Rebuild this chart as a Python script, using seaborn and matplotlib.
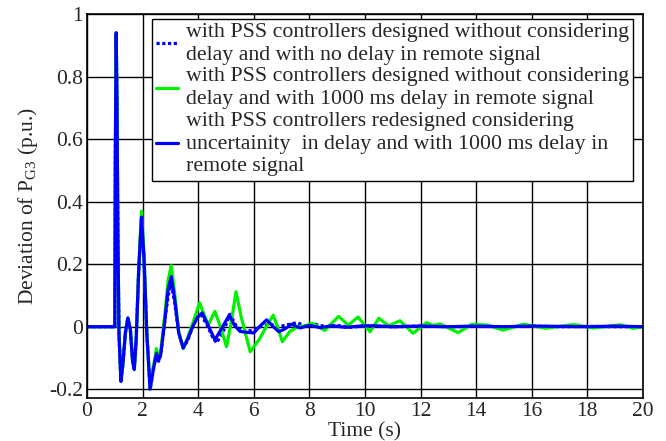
import numpy as np
import pandas as pd
import matplotlib
matplotlib.use("Agg")
import matplotlib.pyplot as plt
import seaborn as sns

# time (s) and deviation of P_G3 (p.u.)
t_early = [0, 1.0, 1.02, 1.05, 1.08, 1.11, 1.15, 1.22, 1.29, 1.38,
           1.47, 1.56, 1.64, 1.70, 1.77, 1.86, 1.96, 2.05, 2.15, 2.27,
           2.38, 2.50, 2.57, 2.65, 2.80, 2.92, 3.03, 3.15, 3.30, 3.46]

v_nodelay_early = [0, 0, 0.55, 0.94, 0.70, 0.30, -0.02, -0.175, -0.12, -0.02,
                   0.028, -0.01, -0.11, -0.137, -0.04, 0.18, 0.345, 0.22, -0.02, -0.20,
                   -0.14, -0.085, -0.11, -0.09, 0.02, 0.10, 0.135, 0.08, -0.02, -0.068]
v_delay_early = [0, 0, 0.55, 0.94, 0.70, 0.30, -0.02, -0.175, -0.12, -0.02,
                 0.028, -0.01, -0.11, -0.137, -0.04, 0.19, 0.37, 0.23, -0.02, -0.195,
                 -0.13, -0.07, -0.10, -0.08, 0.04, 0.15, 0.195, 0.11, -0.02, -0.07]
v_robust_early = [0, 0, 0.55, 0.94, 0.70, 0.30, -0.02, -0.175, -0.12, -0.02,
                  0.028, -0.01, -0.11, -0.137, -0.04, 0.18, 0.35, 0.22, -0.02, -0.20,
                  -0.14, -0.085, -0.11, -0.09, 0.02, 0.12, 0.16, 0.09, -0.02, -0.068]

t_nodelay_late = [3.62, 3.80, 3.97, 4.10, 4.35, 4.50, 4.66, 4.90, 5.15, 5.35,
                  5.55, 5.75, 6.00, 6.30, 6.60, 6.90, 7.20, 7.55, 7.85, 8.20,
                  8.60, 9.00, 9.50, 10.0, 11.0, 12.0, 13.0, 14.0, 15.0, 16.0,
                  17.0, 18.0, 19.0, 20.0]
v_nodelay_late = [-0.045, 0.0, 0.03, 0.04, 0.0, -0.03, -0.052, -0.015, 0.04, 0.005,
                  -0.012, -0.015, -0.01, 0.003, 0.008, 0.0, 0.006, 0.013, 0.003, 0.008,
                  0.0, 0.004, -0.002, 0.003, 0.0, 0.002, 0.0, 0.001, 0.0, 0.002,
                  0.0, 0.001, 0.0, 0.0]

t_delay_late = [3.62, 3.80, 4.05, 4.36, 4.60, 4.80, 5.02, 5.20, 5.36, 5.55,
                5.87, 6.20, 6.45, 6.70, 6.85, 7.03, 7.30, 7.60, 7.85, 8.10,
                8.55, 9.05, 9.40, 9.75, 10.18, 10.50, 10.85, 11.26, 11.73, 12.22,
                12.45, 12.70, 13.35, 13.85, 14.40, 14.97, 15.70, 16.50, 17.50, 18.20,
                19.20, 19.65, 20.0]
v_delay_late = [-0.035, 0.01, 0.076, 0.005, 0.049, 0.0, -0.064, 0.02, 0.112, 0.03,
                -0.08, -0.04, 0.0, 0.037, 0.0, -0.048, -0.015, 0.0, 0.003, 0.011,
                -0.012, 0.033, 0.005, 0.031, -0.016, 0.027, 0.003, 0.019, -0.021, 0.013,
                0.004, 0.009, -0.019, 0.008, 0.005, -0.011, 0.008, -0.005, 0.007, -0.004,
                0.006, -0.005, 0.0]

t_robust_late = [3.62, 3.80, 3.97, 4.14, 4.38, 4.60, 4.85, 5.12, 5.30, 5.50,
                 5.75, 6.00, 6.20, 6.46, 6.70, 6.90, 7.10, 7.36, 7.66, 8.00,
                 8.40, 8.80, 9.30, 9.80, 10.30, 11.0, 12.0, 13.0, 14.0, 15.0,
                 16.0, 17.0, 18.0, 19.0, 20.0]
v_robust_late = [-0.04, 0.0, 0.03, 0.044, 0.0, -0.042, -0.005, 0.038, 0.005, -0.015,
                 -0.018, -0.02, 0.0, 0.022, 0.0, -0.016, -0.008, 0.008, -0.004, 0.004,
                 -0.003, 0.003, -0.002, 0.002, 0.003, 0.0, 0.002, 0.0, 0.002, 0.0,
                 0.002, 0.001, 0.0, 0.002, 0.0]

labels = ["with PSS controllers designed without considering\n"
          "delay and with no delay in remote signal",
          "with PSS controllers designed without considering\n"
          "delay and with 1000 ms delay in remote signal",
          "with PSS controllers redesigned considering\n"
          "uncertainity  in delay and with 1000 ms delay in\n"
          "remote signal"]
colors = ["#0000ff", "#00f000", "#0000ff"]
styles = [(0, (1, 0.8)), "-", "-"]

xticks = list(range(0, 21, 2))
yticks = [-0.2, 0, 0.2, 0.4, 0.6, 0.8, 1]
ytick_labels = ["-0.2", "0", "0.2", "0.4", "0.6", "0.8", "1"]

series = [(t_early + t_nodelay_late, v_nodelay_early + v_nodelay_late),
          (t_early + t_delay_late, v_delay_early + v_delay_late),
          (t_early + t_robust_late, v_robust_early + v_robust_late)]

sns.set_style("white")
plt.rcParams['font.family'] = ['Liberation Serif', 'DejaVu Serif']
plt.rcParams['mathtext.fontset'] = 'stix'
plt.rcParams['axes.unicode_minus'] = False

fig = plt.figure(figsize=(6.66, 4.41), dpi=100)
ax = fig.add_axes([87/666, 43/441, 556/666, 384/441])

for (t, v), lab, c, ls in zip(series, labels, colors, styles):
    df = pd.DataFrame({"t": t, "v": v})
    sns.lineplot(data=df, x="t", y="v", ax=ax, color=c, linewidth=2.3,
                 linestyle=ls, label=lab, estimator=None)

ax.set_xlim(0, 20)
ax.set_ylim(-0.228, 1)
ax.set_xticks(xticks)
ax.set_xticklabels([str(x) for x in xticks], fontsize=15.5)
ax.set_yticks(yticks)
ax.set_yticklabels(ytick_labels, fontsize=15.5)
ax.tick_params(direction="in", length=0, pad=3)
ax.grid(True, color="black", linewidth=1)
ax.set_axisbelow(True)
for s in ax.spines.values():
    s.set_color("black")
    s.set_linewidth(1.2)

ax.set_xlabel("Time (s)", fontsize=15.5, labelpad=1)
ax.set_ylabel(r"Deviation of P$_{\mathregular{G3}}$ (p.u.)", fontsize=15.5, labelpad=6)

leg = ax.legend(loc="upper right", bbox_to_anchor=(0.982, 0.988), borderaxespad=0,
                fontsize=15.75, handlelength=1.0, handletextpad=0.35, labelspacing=0.12,
                borderpad=0.2, frameon=True, fancybox=False, framealpha=1,
                edgecolor="black")
leg.get_frame().set_linewidth(1)
for txt in leg.get_texts():
    txt.set_linespacing(1.27)

fig.savefig("out.png", dpi=100)
